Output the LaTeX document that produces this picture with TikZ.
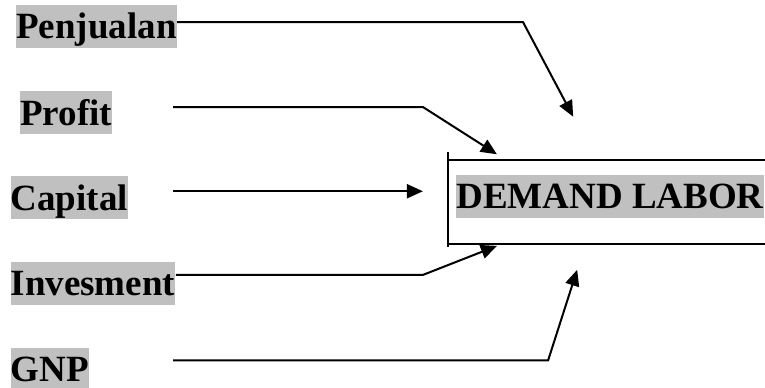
\documentclass[tikz,border=0pt]{standalone}
\usepackage{fontspec}
\setmainfont{Liberation Serif}
\usetikzlibrary{arrows.meta}
\definecolor{labelgray}{RGB}{192,192,192}

\begin{document}
\begin{tikzpicture}[
  factor/.style={fill=labelgray, inner xsep=0pt, inner ysep=0pt,
    text height=17pt, text depth=4.5pt, anchor=base west,
    font=\fontsize{18.5}{22}\selectfont\bfseries},
  feed/.style={line width=1pt, -{Triangle[length=8pt,width=7pt]}}
]
  \useasboundingbox (0,0) rectangle (13.44,6.80);

  % Factors on the left
  \node[factor] (penjualan) at (0.28,6.12) {Penjualan};
  \node[factor] (profit)    at (0.35,4.60) {Profit};
  \node[factor] (capital)   at (0.18,3.11) {Capital};
  \node[factor] (invesment) at (0.18,1.60) {Invesment};
  \node[factor] (gnp)       at (0.18,0.09) {GNP};

  % Demand box, open to the right
  \draw[line width=1pt] (7.87,4.13) -- (7.87,2.46);
  \draw[line width=1pt] (7.87,3.99) -- (13.44,3.99);
  \draw[line width=1pt] (7.87,2.51) -- (13.44,2.51);
  \node[factor] (demand) at (8.01,3.13) {DEMAND LABOR};

  % Line ends and bends
  \coordinate (penjualan-out) at (3.11,6.41);
  \coordinate (penjualan-bend) at (9.19,6.41);
  \coordinate (penjualan-in) at (10.07,4.75);

  \coordinate (profit-out) at (3.04,4.92);
  \coordinate (profit-bend) at (7.43,4.92);
  \coordinate (profit-in) at (8.73,4.09);

  \coordinate (capital-out) at (3.04,3.44);
  \coordinate (capital-in) at (7.43,3.44);

  \coordinate (invesment-out) at (3.09,1.97);
  \coordinate (invesment-bend) at (7.43,1.97);
  \coordinate (invesment-in) at (8.73,2.48);

  \coordinate (gnp-out) at (3.04,0.47);
  \coordinate (gnp-bend) at (9.63,0.47);
  \coordinate (gnp-in) at (10.14,2.06);

  % Arrows into the demand box
  \draw[feed] (penjualan-out) -- (penjualan-bend) -- (penjualan-in);
  \draw[feed] (profit-out) -- (profit-bend) -- (profit-in);
  \draw[feed] (capital-out) -- (capital-in);
  \draw[feed] (invesment-out) -- (invesment-bend) -- (invesment-in);
  \draw[feed] (gnp-out) -- (gnp-bend) -- (gnp-in);
\end{tikzpicture}
\end{document}
